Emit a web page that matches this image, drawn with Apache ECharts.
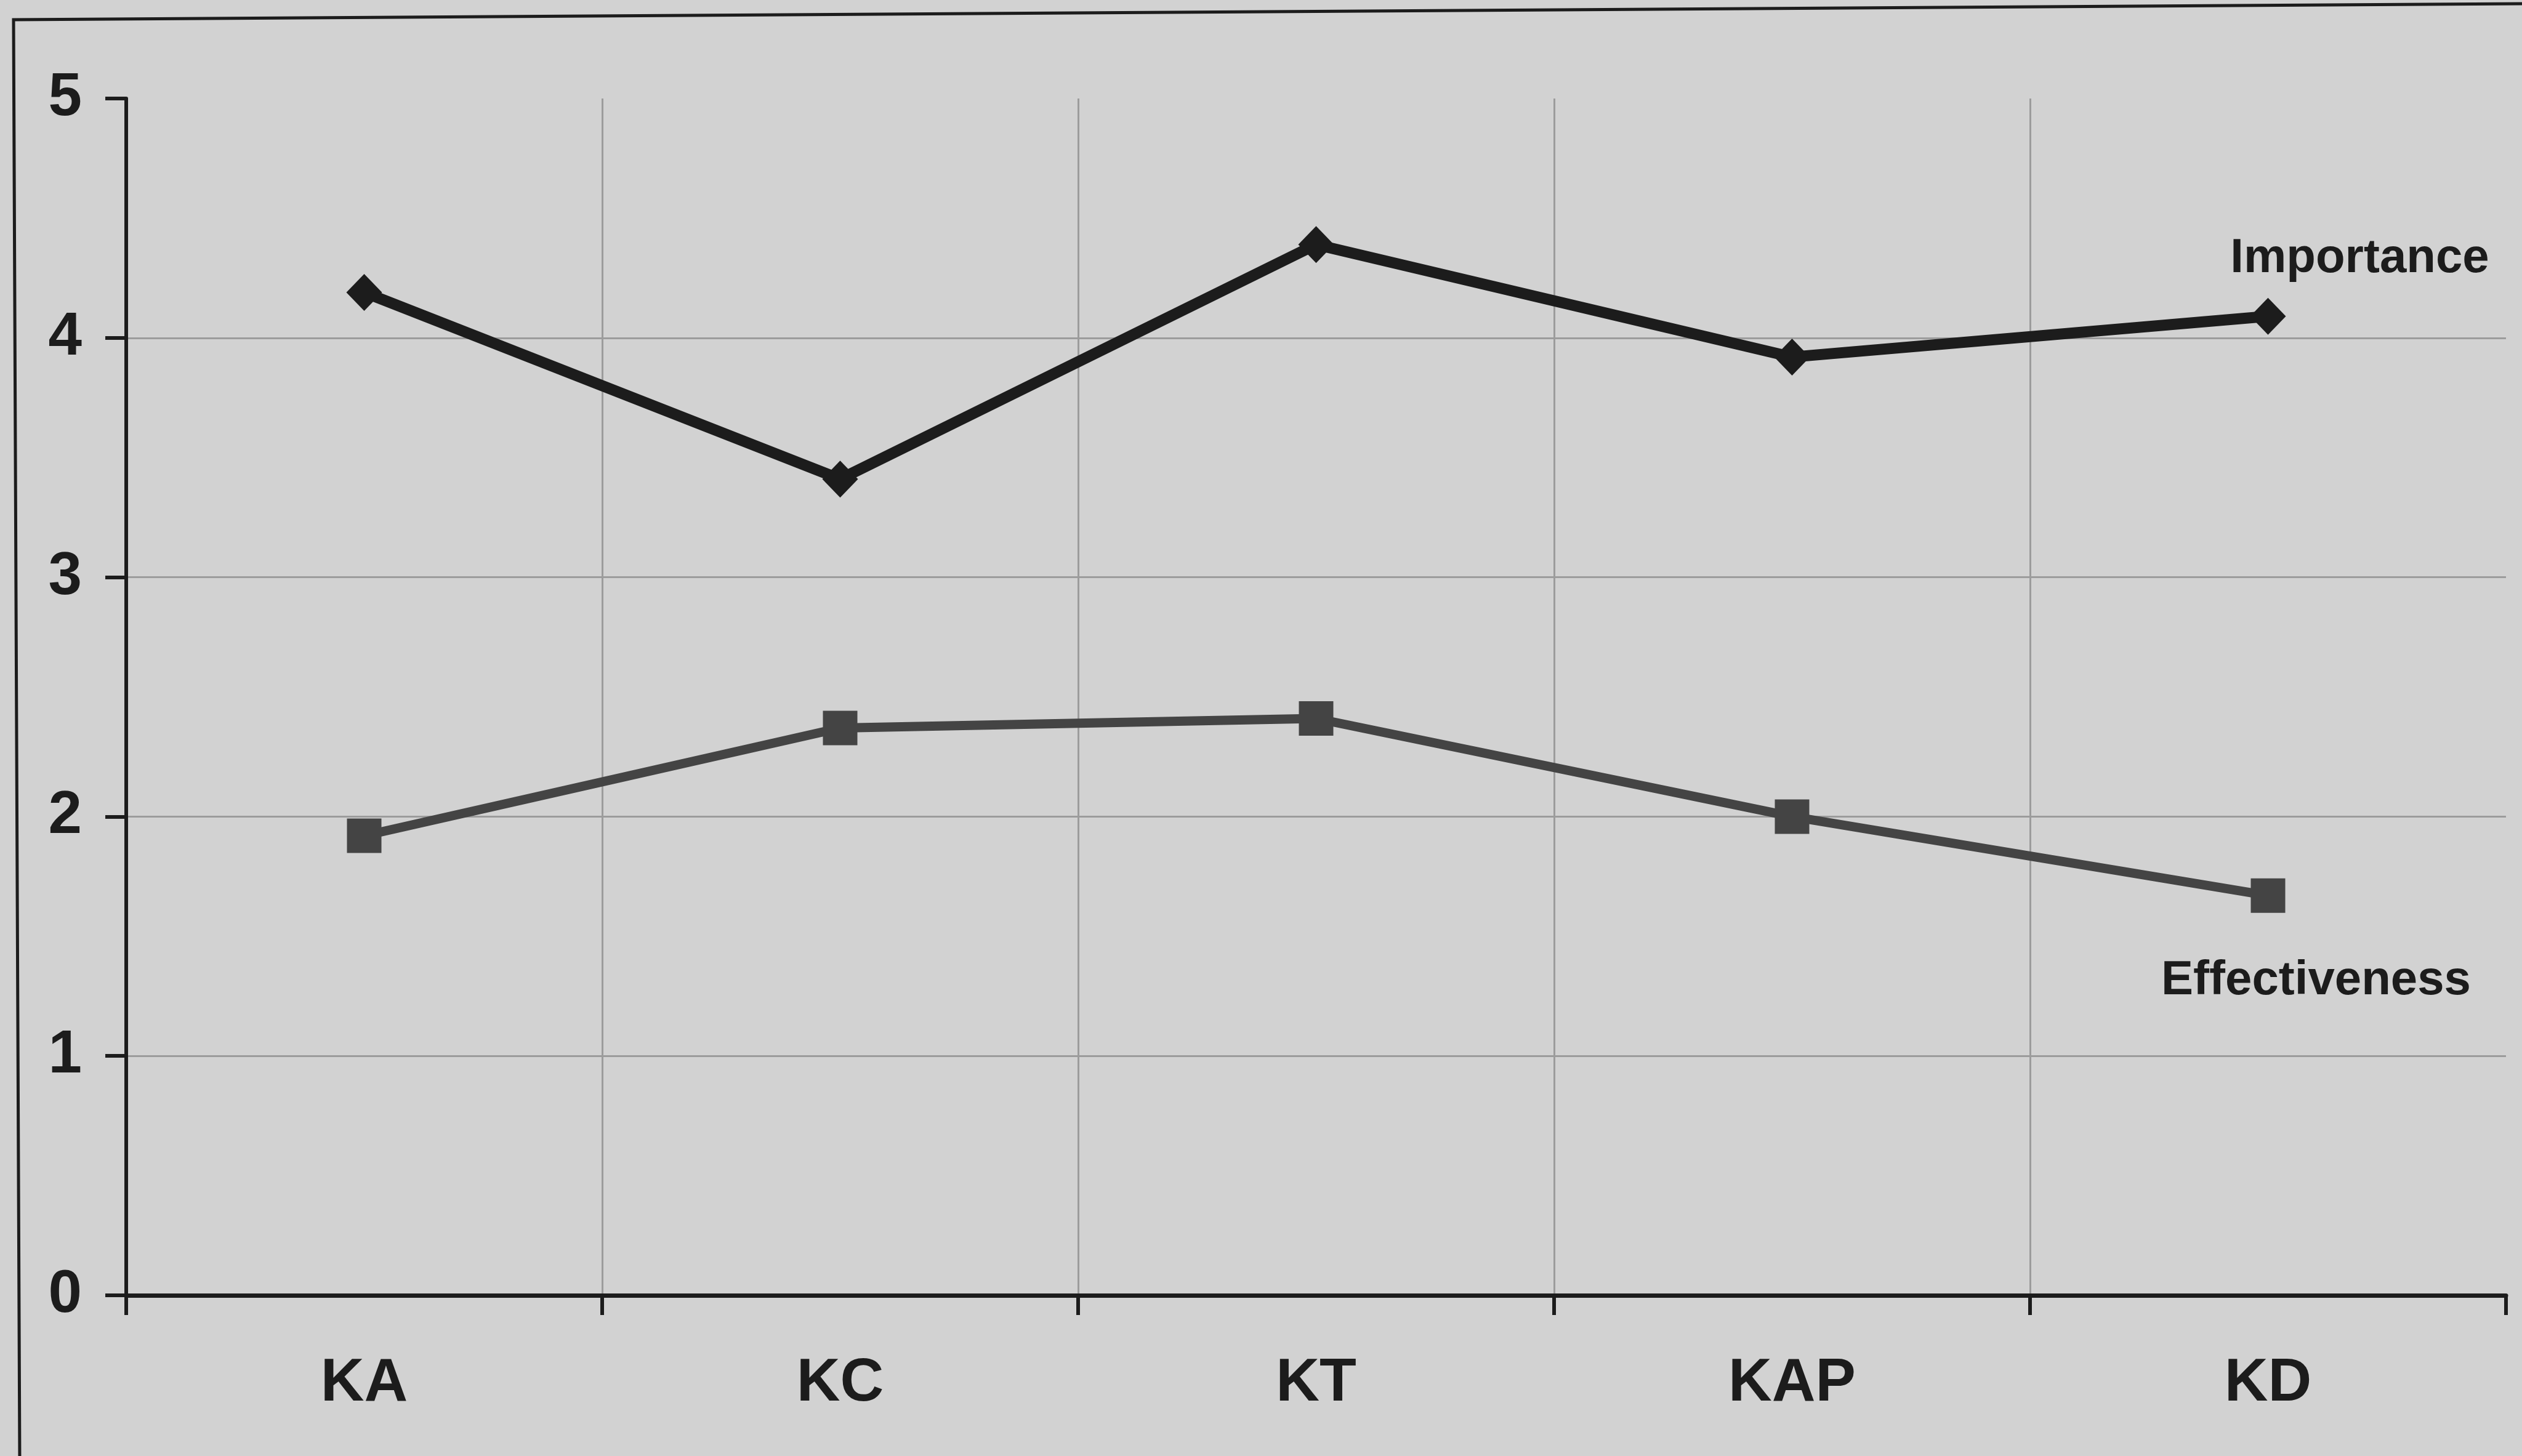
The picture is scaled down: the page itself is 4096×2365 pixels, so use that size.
<!DOCTYPE html>
<html>
<head>
<meta charset="utf-8">
<title>Importance vs Effectiveness</title>
<script src="https://cdn.jsdelivr.net/npm/echarts@6/dist/echarts.min.js"></script>
<style>
  html, body { margin: 0; padding: 0; background: #d2d2d2; }
  #chart { width: 4096px; height: 2365px; }
</style>
</head>
<body>
<div id="chart"></div>
<script>
// Categories along the horizontal axis
const categories = ['KA', 'KC', 'KT', 'KAP', 'KD'];
// Mean scores per category
const importance = [4.19, 3.41, 4.39, 3.92, 4.09];
const effectiveness = [1.92, 2.37, 2.41, 2.00, 1.67];
// Value axis ticks
const yTicks = [0, 1, 2, 3, 4, 5];

const ink = '#1c1c1c';
const font = '"Liberation Sans", Arial, sans-serif';

// Attach the series name as a text label next to the last point
function withEndLabel(values, name, offset) {
  const last = values.length - 1;
  return values.map((v, i) => i !== last ? v : {
    value: v,
    label: {
      show: true,
      position: 'inside',
      offset: offset,
      formatter: name,
      color: ink,
      fontFamily: font,
      fontWeight: 'bold',
      fontSize: 78,
      align: 'center',
      verticalAlign: 'middle'
    }
  });
}

const chart = echarts.init(document.getElementById('chart'), null, { renderer: 'canvas' });

chart.setOption({
  animation: false,
  backgroundColor: '#d2d2d2',
  grid: { left: 205, right: 26, top: 160, bottom: 261, containLabel: false },
  xAxis: {
    type: 'category',
    data: categories,
    boundaryGap: true,
    axisLine: { show: true, lineStyle: { color: ink, width: 7 } },
    axisTick: { show: true, length: 32, lineStyle: { color: ink, width: 6 } },
    axisLabel: {
      color: ink, fontFamily: font, fontWeight: 'bold', fontSize: 98, margin: 95
    },
    splitLine: {
      show: true, showMinLine: false, showMaxLine: false,
      lineStyle: { color: '#9c9c9c', width: 3 }
    }
  },
  yAxis: {
    type: 'value',
    min: yTicks[0],
    max: yTicks[yTicks.length - 1],
    interval: 1,
    axisLine: { show: true, lineStyle: { color: ink, width: 6 } },
    axisTick: { show: true, length: 34, lineStyle: { color: ink, width: 6 } },
    axisLabel: {
      color: ink, fontFamily: font, fontWeight: 'bold', fontSize: 98, margin: 72
    },
    splitLine: {
      show: true, showMinLine: false, showMaxLine: false,
      lineStyle: { color: '#9c9c9c', width: 3 }
    }
  },
  series: [
    {
      name: 'Importance',
      type: 'line',
      data: withEndLabel(importance, 'Importance', [149, -93]),
      symbol: 'diamond',
      symbolSize: [58, 60],
      showAllSymbol: true,
      lineStyle: { color: ink, width: 18 },
      itemStyle: { color: ink, borderWidth: 0 },
      z: 3
    },
    {
      name: 'Effectiveness',
      type: 'line',
      data: withEndLabel(effectiveness, 'Effectiveness', [78, 139]),
      symbol: 'rect',
      symbolSize: 56,
      showAllSymbol: true,
      lineStyle: { color: '#444444', width: 15 },
      itemStyle: { color: '#444444', borderWidth: 0 },
      z: 3
    }
  ],
  graphic: [
    {
      // outer chart frame (top and left edges)
      type: 'polyline',
      shape: { points: [[4096, 6], [22, 32], [32, 2365]] },
      style: { stroke: ink, lineWidth: 5, fill: null },
      silent: true
    }
  ]
});
</script>
</body>
</html>
